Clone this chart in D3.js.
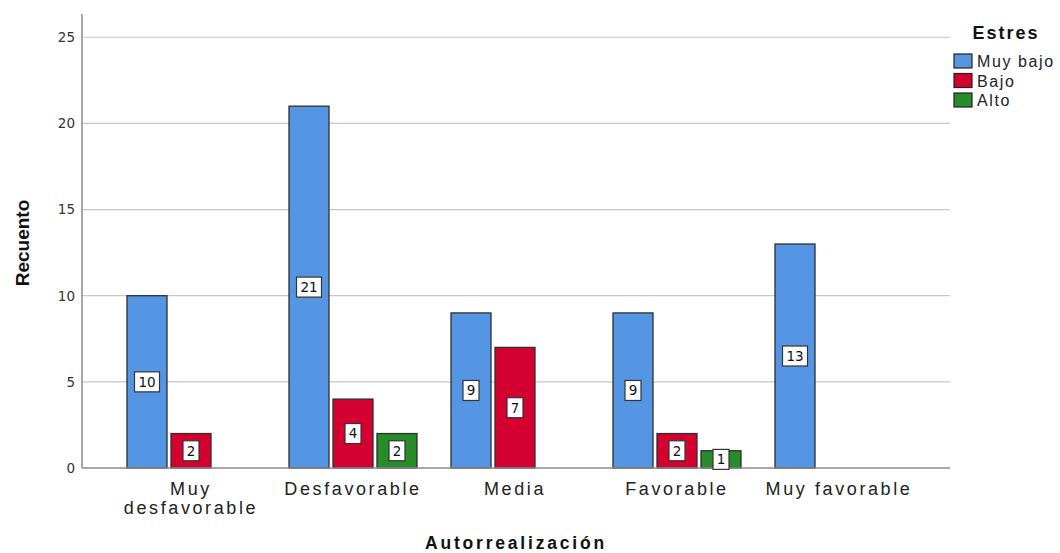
<!DOCTYPE html>
<html>
<head>
<meta charset="utf-8">
<script src="https://cdn.jsdelivr.net/npm/d3@7"></script>
<style>
  html, body { margin: 0; padding: 0; background: #fff; }
  svg { display: block; font-family: "Liberation Sans", Arial, sans-serif; }
</style>
</head>
<body>
<svg id="chart" width="1060" height="553"></svg>
<script>
// Counts of Estres level within each Autorrealización category
const categories = ["Muy desfavorable", "Desfavorable", "Media", "Favorable", "Muy favorable"];
const seriesNames = ["Muy bajo", "Bajo", "Alto"];
const muyBajo = [10, 21, 9, 9, 13];
const bajo = [2, 4, 7, 2, 0];
const alto = [0, 2, 0, 1, 0];
const yTicks = [0, 5, 10, 15, 20, 25];
const colors = ["#5596e4", "#d4002f", "#278c2a"];

const seriesValues = [muyBajo, bajo, alto];

const svg = d3.select("#chart");
const plot = { left: 82, right: 950, top: 14, bottom: 468 };

const y = d3.scaleLinear().domain([0, 26.35]).range([plot.bottom, plot.top]);
const x = d3.scaleBand().domain(categories).range([110, 920]).paddingInner(0).paddingOuter(0);
const barW = 40, barGap = 4;
const groupW = seriesNames.length * barW + (seriesNames.length - 1) * barGap;
const barX = (cat, si) => x(cat) + x.bandwidth() / 2 - groupW / 2 + si * (barW + barGap);

// gridlines
svg.append("g")
  .selectAll("line")
  .data(yTicks.filter(t => t > 0))
  .join("line")
  .attr("x1", plot.left).attr("x2", plot.right)
  .attr("y1", d => y(d)).attr("y2", d => y(d))
  .attr("stroke", "#c8c8c8").attr("stroke-width", 1.2);

// y axis
const yAxis = svg.append("g")
  .attr("transform", `translate(${plot.left},0)`)
  .call(d3.axisLeft(y).tickValues(yTicks).tickSize(0).tickPadding(7));
yAxis.select(".domain").remove();
yAxis.selectAll("text").attr("font-size", 13.5).attr("fill", "#333")
  .attr("font-family", "DejaVu Sans, sans-serif");

// bars
const flat = [];
categories.forEach((c, ci) => seriesValues.forEach((vals, si) => {
  if (vals[ci] > 0) flat.push({ cat: c, si, v: vals[ci] });
}));

svg.append("g")
  .selectAll("rect")
  .data(flat)
  .join("rect")
  .attr("x", d => barX(d.cat, d.si))
  .attr("y", d => y(d.v))
  .attr("width", barW)
  .attr("height", d => y(0) - y(d.v))
  .attr("fill", d => colors[d.si])
  .attr("stroke", "#2f2f2f")
  .attr("stroke-width", 1.3);

// axis lines
svg.append("line").attr("x1", plot.left).attr("x2", plot.left)
  .attr("y1", plot.top).attr("y2", plot.bottom)
  .attr("stroke", "#8a8a8a").attr("stroke-width", 1.5);
svg.append("line").attr("x1", plot.left).attr("x2", plot.right)
  .attr("y1", plot.bottom).attr("y2", plot.bottom)
  .attr("stroke", "#8a8a8a").attr("stroke-width", 1.5);

// value labels in white boxes at mid-height
const lbl = svg.append("g").selectAll("g").data(flat).join("g")
  .attr("transform", d => `translate(${barX(d.cat, d.si) + barW / 2},${(y(0) + y(d.v)) / 2})`);
lbl.append("rect")
  .attr("x", d => d.v >= 10 ? -12.5 : -8)
  .attr("y", -10)
  .attr("width", d => d.v >= 10 ? 25 : 16)
  .attr("height", 20)
  .attr("fill", "#fff")
  .attr("stroke", "#333")
  .attr("stroke-width", 1.2);
lbl.append("text")
  .attr("text-anchor", "middle")
  .attr("dy", "0.36em")
  .attr("font-family", "DejaVu Sans, sans-serif")
  .attr("font-size", 13.5)
  .attr("fill", "#111")
  .text(d => d.v);

// category labels
const xl = svg.append("g").selectAll("text").data(categories).join("text")
  .attr("x", d => x(d) + x.bandwidth() / 2)
  .attr("y", 495)
  .attr("text-anchor", "middle")
  .attr("font-size", 18)
  .attr("letter-spacing", 2.6)
  .attr("fill", "#222");
xl.each(function (d) {
  const t = d3.select(this);
  if (d === "Muy desfavorable") {
    t.append("tspan").attr("x", x(d) + x.bandwidth() / 2).attr("dy", 0).text("Muy");
    t.append("tspan").attr("x", x(d) + x.bandwidth() / 2).attr("dy", 19).text("desfavorable");
  } else {
    t.text(d);
  }
});

// axis titles
svg.append("text")
  .attr("x", 516).attr("y", 549)
  .attr("text-anchor", "middle")
  .attr("font-size", 17.5).attr("font-weight", "bold").attr("fill", "#111")
  .attr("letter-spacing", 2.8)
  .text("Autorrealización");
svg.append("text")
  .attr("transform", `translate(29,243) rotate(-90)`)
  .attr("text-anchor", "middle")
  .attr("font-size", 19).attr("font-weight", "bold").attr("fill", "#111")
  .text("Recuento");

// legend
const legend = svg.append("g");
legend.append("text")
  .attr("x", 1006).attr("y", 39)
  .attr("text-anchor", "middle")
  .attr("font-size", 18).attr("font-weight", "bold").attr("fill", "#111")
  .attr("letter-spacing", 2)
  .text("Estres");
const items = legend.selectAll("g.item").data(seriesNames).join("g")
  .attr("class", "item")
  .attr("transform", (d, i) => `translate(954,${54 + i * 19.5})`);
items.append("rect")
  .attr("width", 18).attr("height", 14)
  .attr("fill", (d, i) => colors[i])
  .attr("stroke", "#222").attr("stroke-width", 1.2);
items.append("text")
  .attr("x", 23).attr("y", 13)
  .attr("font-size", 16).attr("fill", "#222")
  .attr("letter-spacing", 1.6)
  .text(d => d);
</script>
</body>
</html>
